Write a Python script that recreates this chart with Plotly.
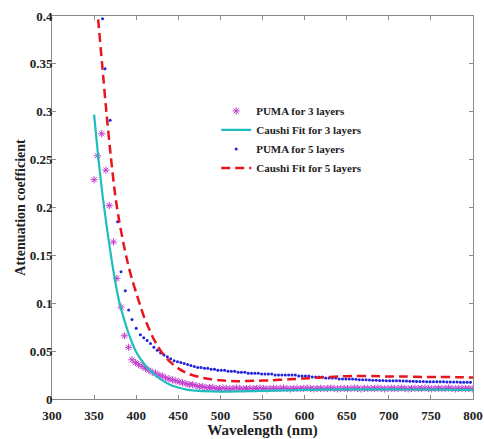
import plotly.graph_objects as go

# ---- data ----
wl_puma3 = [350, 354, 359, 364, 368, 373, 377, 382, 386, 391, 395,
            399, 403, 407, 411, 415, 419, 423, 427, 431, 435, 439, 443, 447, 451,
            455, 459, 463, 467, 471, 475, 479, 483, 487, 491, 495, 499, 503, 507,
            511, 515, 519, 523, 527, 531, 535, 539, 543, 547, 551, 555, 559, 563,
            567, 571, 575, 579, 583, 587, 591, 595, 599, 603, 607, 611, 615, 619,
            623, 627, 631, 635, 639, 643, 647, 651, 655, 659, 663, 667, 671, 675,
            679, 683, 687, 691, 695, 699, 703, 707, 711, 715, 719, 723, 727, 731,
            735, 739, 743, 747, 751, 755, 759, 763, 767, 771, 775, 779, 783, 787,
            791, 795, 799]
att_puma3 = [0.229, 0.254, 0.277, 0.239, 0.202, 0.164, 0.126, 0.096, 0.066, 0.054, 0.041,
             0.038, 0.036, 0.034, 0.032, 0.030, 0.028, 0.027, 0.025, 0.024, 0.022, 0.021,
             0.020, 0.019, 0.018, 0.017, 0.016, 0.015, 0.015, 0.014, 0.013, 0.013, 0.012,
             0.012, 0.012, 0.011, 0.011, 0.0115, 0.011, 0.0105, 0.011, 0.0115, 0.011,
             0.0105, 0.011, 0.0112, 0.0108, 0.011, 0.0115, 0.011, 0.0105, 0.011, 0.0112,
             0.0108, 0.011, 0.0115, 0.011, 0.0105, 0.011, 0.0112, 0.0108, 0.011, 0.0115,
             0.011, 0.0105, 0.011, 0.0112, 0.0108, 0.011, 0.0115, 0.011, 0.0105, 0.011,
             0.0112, 0.0108, 0.011, 0.0115, 0.011, 0.0105, 0.011, 0.0112, 0.0108, 0.011,
             0.0115, 0.011, 0.0105, 0.011, 0.0112, 0.0108, 0.011, 0.0115, 0.011, 0.0105,
             0.011, 0.0112, 0.0108, 0.011, 0.0115, 0.011, 0.0105, 0.011, 0.0112, 0.0108,
             0.011, 0.0115, 0.011, 0.0105, 0.011, 0.0112, 0.0108, 0.011, 0.0105]

wl_fit3 = [350, 355, 360, 365, 370, 375, 380, 385, 390, 395, 400, 405, 410, 415,
           420, 425, 430, 440, 450, 460, 470, 480, 500, 520, 550, 600, 650, 700, 750, 800]
att_fit3 = [0.297, 0.252, 0.213, 0.180, 0.150, 0.123, 0.101, 0.085, 0.071, 0.059, 0.049,
            0.042, 0.036, 0.031, 0.027, 0.023, 0.020, 0.015, 0.012, 0.0098, 0.0087, 0.0082,
            0.0078, 0.008, 0.0085, 0.0095, 0.010, 0.010, 0.0098, 0.0095]

wl_puma5 = [360, 363, 369, 378, 382, 387, 391, 395, 400, 405, 409, 413, 417, 421, 425,
            429, 433, 437, 441, 445, 449, 453, 457, 461, 465, 469, 473, 477, 481, 485,
            489, 493, 497, 501, 505, 509, 513, 517, 521, 525, 529, 533, 537, 541, 545,
            549, 553, 557, 561, 565, 569, 573, 577, 581, 585, 589, 593, 597, 601, 605,
            609, 613, 617, 621, 625, 629, 633, 637, 641, 645, 649, 653, 657, 661, 665,
            669, 673, 677, 681, 685, 689, 693, 697, 701, 705, 709, 713, 717, 721, 725,
            729, 733, 737, 741, 745, 749, 753, 757, 761, 765, 769, 773, 777, 781, 785,
            789, 793, 797]
att_puma5 = [0.397, 0.345, 0.291, 0.185, 0.133, 0.113, 0.093, 0.083, 0.074, 0.067, 0.064,
             0.061, 0.058, 0.054, 0.051, 0.048, 0.046, 0.044, 0.042, 0.040, 0.039, 0.038,
             0.037, 0.036, 0.035, 0.034, 0.033, 0.033, 0.032, 0.032, 0.031, 0.031, 0.030,
             0.030, 0.030, 0.029, 0.029, 0.029, 0.028, 0.028, 0.028, 0.027, 0.027, 0.027,
             0.027, 0.026, 0.026, 0.026, 0.026, 0.025, 0.025, 0.025, 0.025, 0.025, 0.025,
             0.025, 0.024, 0.024, 0.024, 0.024, 0.023, 0.023, 0.023, 0.023, 0.022, 0.022,
             0.022, 0.022, 0.021, 0.021, 0.021, 0.021, 0.021, 0.0205, 0.020, 0.020, 0.020,
             0.0198, 0.0196, 0.0195, 0.0193, 0.0192, 0.019, 0.019, 0.019, 0.019, 0.019,
             0.0188, 0.0187, 0.0186, 0.0185, 0.0184, 0.0183, 0.0182, 0.0181, 0.018, 0.018,
             0.018, 0.018, 0.0179, 0.0178, 0.0178, 0.0177, 0.0177, 0.0176, 0.0176, 0.0175,
             0.0175]

wl_fit5 = [350, 355, 360, 365, 370, 375, 380, 385, 390, 395, 400, 405, 410, 415, 420,
           425, 430, 440, 450, 460, 470, 480, 490, 500, 520, 540, 560, 580, 600, 620,
           640, 660, 680, 700, 720, 740, 760, 780, 800]
att_fit5 = [0.455, 0.395, 0.345, 0.296, 0.252, 0.213, 0.185, 0.162, 0.142, 0.125, 0.111,
            0.097, 0.084, 0.074, 0.064, 0.056, 0.049, 0.039, 0.032, 0.027, 0.024, 0.022,
            0.0205, 0.0195, 0.0185, 0.019, 0.0195, 0.0205, 0.0215, 0.0225, 0.0235, 0.024,
            0.024, 0.0235, 0.0235, 0.023, 0.023, 0.0228, 0.0225]

x_ticks = [300, 350, 400, 450, 500, 550, 600, 650, 700, 750, 800]
y_ticks = [0, 0.05, 0.1, 0.15, 0.2, 0.25, 0.3, 0.35, 0.4]
y_tick_text = ["0", "0.05", "0.1", "0.15", "0.2", "0.25", "0.3", "0.35", "0.4"]

FONT = "Liberation Serif"

fig = go.Figure()
fig.add_trace(go.Scatter(
    x=wl_puma3, y=att_puma3, mode="markers", name="<b>PUMA for 3 layers</b>",
    marker=dict(symbol="asterisk-open", size=6, color="#c43ccf",
                line=dict(width=1, color="#c43ccf"))))
fig.add_trace(go.Scatter(
    x=wl_fit3, y=att_fit3, mode="lines", name="<b>Caushi Fit for 3 layers</b>",
    line=dict(color="#1fbdbd", width=2.2, shape="spline", smoothing=0.6)))
fig.add_trace(go.Scatter(
    x=wl_puma5, y=att_puma5, mode="markers", name="<b>PUMA for 5 layers</b>",
    marker=dict(symbol="circle", size=3, color="#2020e0")))
fig.add_trace(go.Scatter(
    x=wl_fit5, y=att_fit5, mode="lines", name="<b>Caushi Fit for 5 layers</b>",
    line=dict(color="#e8141e", width=2.5, dash="9px,5px", shape="spline", smoothing=0.6)))

axis_common = dict(
    showline=True, linecolor="#8a8a8a", linewidth=1, mirror="ticks",
    ticks="inside", ticklen=4, tickcolor="#8a8a8a", showgrid=False, zeroline=False,
    tickfont=dict(family=FONT, size=13, color="#222222"), automargin=False,
)

fig.update_layout(
    width=484, height=439,
    margin=dict(l=52, r=11, t=16, b=40),
    paper_bgcolor="white", plot_bgcolor="white",
    font=dict(family=FONT, color="#222222"),
    showlegend=True,
    legend=dict(x=0.39, y=0.79, xanchor="left", yanchor="top",
                bgcolor="rgba(0,0,0,0)", borderwidth=0,
                font=dict(family=FONT, size=11, color="#222222"),
                tracegroupgap=0, itemwidth=30),
    xaxis=dict(range=[300, 800], tickvals=x_ticks,
               ticktext=["<b>%d</b>" % v for v in x_ticks], ticklabelstandoff=4,
               title=dict(text="<b>Wavelength (nm)</b>", font=dict(family=FONT, size=15),
                          standoff=4),
               **axis_common),
    yaxis=dict(range=[0, 0.4], tickvals=y_ticks,
               ticktext=["<b>%s</b>" % t for t in y_tick_text], ticklabelstandoff=-4,
               title=dict(text="<b>Attenuation coefficient</b>",
                          font=dict(family=FONT, size=14), standoff=0),
               **axis_common),
)

fig.write_html("out.html", config={"displayModeBar": False},
               post_script="document.body.style.margin='0';")
